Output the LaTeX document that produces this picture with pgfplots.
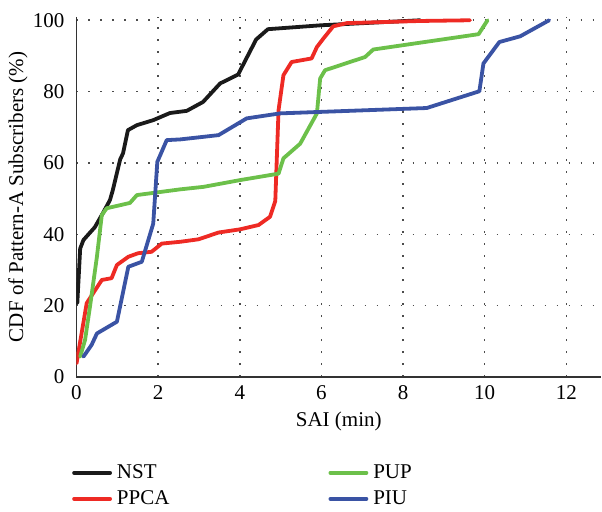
\documentclass[border=0pt]{standalone}
\usepackage{pgfplots}
\pgfplotsset{compat=1.18}
\usepackage{fontspec}
\setmainfont{Liberation Serif}
\definecolor{cnst}{HTML}{1A1A1A}
\definecolor{cppca}{HTML}{EE2A24}
\definecolor{cpup}{HTML}{6CC04A}
\definecolor{cpiu}{HTML}{3A53A4}
\begin{document}
\fontsize{21bp}{24bp}\selectfont
\begin{tikzpicture}
\useasboundingbox (-76.5bp,-135bp) rectangle (525.5bp,377bp);
\begin{axis}[name=ax, at={(0bp,0bp)}, anchor=south west,
  scale only axis, width=524.5bp, height=360.3bp,
  xmin=0, xmax=12.85, ymin=0, ymax=101,
  xtick={0,2,...,12}, ytick={0,20,...,100},
  axis x line=bottom, axis y line=left,
  axis line style={-, line width=1.3bp, black!80},
  major tick length=0pt,
  xmajorgrids, ymajorgrids,
  grid style={black!70, line width=1.6bp, dash pattern=on 1.6bp off 10.4bp},
  /pgf/number format/assume math mode=true,
  every tick label/.append style={font=\fontsize{21bp}{24bp}\selectfont},
  yticklabel style={xshift=-5bp},
  xticklabel style={yshift=-1bp},
  label style={font=\fontsize{21bp}{24bp}\selectfont},
  xlabel={SAI (min)},
  ylabel={CDF of Pattern-A Subscribers (\%)},
  xlabel style={yshift=2bp},
  ylabel style={yshift=-9bp},
  legend style={at={(-0.0086,-0.236)}, anchor=north west, draw=none, fill=none, inner sep=0pt,
    font=\fontsize{21bp}{24bp}\selectfont, row sep=5bp,
    /tikz/every odd column/.append style={column sep=3bp},
    /tikz/every even column/.append style={column sep=157bp}},
  legend columns=2, transpose legend, legend cell align=left,
  legend image code/.code={\draw[#1] (0bp,0bp) -- (36bp,0bp);},
  every axis plot/.append style={line width=3.8bp, line join=round, line cap=round},
]
\addplot[cnst] coordinates {
(0.02,20.7) (0.09,36) (0.17,38.4) (0.45,42) (0.65,46) (0.82,49.6) (0.89,52.4)
(1.07,61) (1.14,62.7) (1.26,69.2) (1.48,70.6) (1.88,72) (2.29,74) (2.70,74.6)
(3.10,77.1) (3.52,82.3) (3.96,84.8) (4.40,94.6) (4.69,97.5) (6.0,98.6) (8.42,100)
};
\addlegendentry{NST}
\addplot[cppca] coordinates {
(0.0,3.8) (0.25,20.7) (0.62,27.2) (0.86,27.7) (0.99,31.4) (1.27,33.7) (1.51,34.7)
(1.84,35.1) (2.09,37.4) (2.54,37.9) (2.99,38.6) (3.48,40.5) (4.01,41.4) (4.46,42.6)
(4.74,44.9) (4.87,49.3) (4.95,74.8) (5.07,84.6) (5.27,88.3) (5.76,89.3) (5.89,92.5)
(6.05,94.9) (6.29,98.3) (6.62,99.2) (8.42,99.8) (9.64,100)
};
\addlegendentry{PPCA}
\addplot[cpup] coordinates {
(0.09,5.7) (0.21,10.4) (0.33,19.7) (0.50,33.7) (0.62,45.4) (0.74,47.3) (1.31,48.8)
(1.48,51) (2.54,52.6) (3.11,53.3) (4.01,55.2) (4.95,57) (5.07,61.3) (5.48,65.4)
(5.89,73.9) (5.97,83.7) (6.09,86) (7.07,89.7) (7.27,91.8) (9.85,96.1) (10.07,100)
};
\addlegendentry{PUP}
\addplot[cpiu] coordinates {
(0.17,5.7) (0.37,9) (0.50,12.2) (0.99,15.5) (1.27,30.9) (1.60,32.3) (1.88,43)
(1.98,60.3) (2.21,66.4) (2.54,66.6) (3.48,67.8) (4.17,72.5) (4.99,73.9) (8.58,75.4)
(9.87,80.1) (9.97,87.9) (10.36,93.9) (10.87,95.5) (11.58,100)
};
\addlegendentry{PIU}
\end{axis}
\end{tikzpicture}
\end{document}
